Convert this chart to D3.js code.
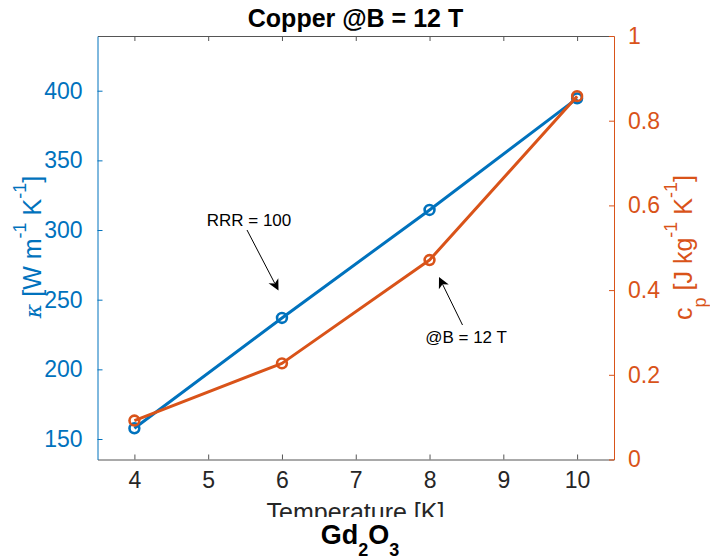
<!DOCTYPE html>
<html>
<head>
<meta charset="utf-8">
<script src="https://cdn.jsdelivr.net/npm/d3@7"></script>
<style>
  html, body { margin: 0; padding: 0; background: #fff; }
  svg text { font-family: "Liberation Sans", Arial, Helvetica, sans-serif; }
</style>
</head>
<body>
<svg id="chart" width="710" height="559"></svg>
<script>
// Copper at 12 T: thermal conductivity (left axis) and specific heat (right axis)
const temperature = [4, 6, 8, 10];
const kappa = [157.7, 236.9, 314.4, 394.5];      // W m^-1 K^-1, RRR = 100
const cp = [0.092, 0.227, 0.471, 0.858];         // J kg^-1 K^-1, @B = 12 T
const xTicks = [4, 5, 6, 7, 8, 9, 10];
const kappaTicks = [150, 200, 250, 300, 350, 400];
const cpTicks = [0, 0.2, 0.4, 0.6, 0.8, 1];

const BLUE = "#0072BD", ORANGE = "#D95319", INK = "#262626", FRAME = "#555";

const svg = d3.select("#chart");
const L = 97.5, R = 614, T = 36, B = 459.5;

const x = d3.scaleLinear().domain([3.5, 10.5]).range([L, R]);
const yL = d3.scaleLinear().domain([135.29, 439.26]).range([B, T]);
const yR = d3.scaleLinear().domain([0, 1]).range([B, T]);

const tickLen = 5;

// bottom axis (ticks point inward)
const axBottom = svg.append("g").attr("transform", `translate(0,${B})`)
  .call(d3.axisBottom(x).tickValues(xTicks).tickSizeInner(-tickLen).tickSizeOuter(0).tickPadding(17).tickFormat(d3.format("d")));
axBottom.select(".domain").attr("stroke", FRAME);
axBottom.selectAll(".tick line").attr("stroke", FRAME);
axBottom.selectAll(".tick text").attr("fill", INK).attr("font-size", 23).attr("dy", "0.5em");

// top frame with ticks
const axTop = svg.append("g").attr("transform", `translate(0,${T})`)
  .call(d3.axisTop(x).tickValues(xTicks).tickSizeInner(-tickLen).tickSizeOuter(0).tickFormat(""));
axTop.select(".domain").attr("stroke", FRAME);
axTop.selectAll(".tick line").attr("stroke", FRAME);

// left axis
const axLeft = svg.append("g").attr("transform", `translate(${L},0)`)
  .call(d3.axisLeft(yL).tickValues(kappaTicks).tickSizeInner(-tickLen).tickSizeOuter(0).tickPadding(15));
axLeft.select(".domain").attr("stroke", BLUE);
axLeft.selectAll(".tick line").attr("stroke", BLUE);
axLeft.selectAll(".tick text").attr("fill", BLUE).attr("font-size", 23);

// right axis
const axRight = svg.append("g").attr("transform", `translate(${R},0)`)
  .call(d3.axisRight(yR).tickValues(cpTicks).tickSizeInner(-tickLen).tickSizeOuter(0).tickPadding(14).tickFormat(d3.format("~g")));
axRight.select(".domain").attr("stroke", ORANGE);
axRight.selectAll(".tick line").attr("stroke", ORANGE);
axRight.selectAll(".tick text").attr("fill", ORANGE).attr("font-size", 23);

// series
function drawSeries(values, yScale, color) {
  const pts = temperature.map((t, i) => [x(t), yScale(values[i])]);
  svg.append("path").datum(pts)
    .attr("d", d3.line())
    .attr("fill", "none").attr("stroke", color).attr("stroke-width", 3)
    .attr("stroke-linejoin", "round");
  svg.append("g").selectAll("circle").data(pts).join("circle")
    .attr("cx", d => d[0]).attr("cy", d => d[1]).attr("r", 4.9)
    .attr("fill", "none").attr("stroke", color).attr("stroke-width", 2.6);
}
drawSeries(kappa, yL, BLUE);
drawSeries(cp, yR, ORANGE);

// annotation arrows
function arrow(x1, y1, x2, y2) {
  const dx = x2 - x1, dy = y2 - y1, len = Math.hypot(dx, dy);
  const ux = dx / len, uy = dy / len, px = -uy, py = ux;
  const hl = 11, hw = 5.5, notch = 3;
  const bx = x2 - ux * hl, by = y2 - uy * hl;
  svg.append("line").attr("x1", x1).attr("y1", y1)
    .attr("x2", x2 - ux * (hl - notch)).attr("y2", y2 - uy * (hl - notch))
    .attr("stroke", "#000").attr("stroke-width", 1);
  const head = [
    [x2, y2],
    [bx + px * hw, by + py * hw],
    [x2 - ux * (hl - notch), y2 - uy * (hl - notch)],
    [bx - px * hw, by - py * hw]
  ];
  svg.append("path").attr("d", "M" + head.map(p => p.join(",")).join("L") + "Z").attr("fill", "#000");
}
arrow(247, 230, 278.5, 290.5);
arrow(462.5, 325, 439, 277);

svg.append("text").attr("x", 249).attr("y", 226).attr("text-anchor", "middle")
  .attr("font-size", 17).attr("fill", "#000").text("RRR = 100");
svg.append("text").attr("x", 466).attr("y", 343).attr("text-anchor", "middle")
  .attr("font-size", 17).attr("fill", "#000").text("@B = 12 T");

// title
svg.append("text").attr("x", 355.5).attr("y", 27).attr("text-anchor", "middle")
  .attr("font-size", 25).attr("font-weight", "bold").attr("fill", "#000")
  .text("Copper @B = 12 T");

// x label, lower part hidden under the material caption
svg.append("defs").append("clipPath").attr("id", "xlabClip")
  .append("rect").attr("x", 0).attr("y", 0).attr("width", 710).attr("height", 517);
svg.append("text").attr("x", 355.5).attr("y", 521).attr("text-anchor", "middle")
  .attr("clip-path", "url(#xlabClip)")
  .attr("font-size", 25).attr("fill", INK).text("Temperature [K]");

// material caption Gd2O3
const cap = svg.append("text").attr("x", 360).attr("y", 544).attr("text-anchor", "middle")
  .attr("font-size", 27).attr("font-weight", "bold").attr("fill", "#000");
cap.append("tspan").text("Gd");
cap.append("tspan").attr("dy", 12).attr("font-size", 18).text("2");
cap.append("tspan").attr("dy", -12).text("O");
cap.append("tspan").attr("dy", 12).attr("font-size", 18).text("3");

// left y label: κ [W m^-1 K^-1]
const yl = svg.append("text").attr("transform", "translate(41,247) rotate(-90)")
  .attr("text-anchor", "middle").attr("font-size", 25).attr("fill", BLUE);
yl.append("tspan").attr("font-style", "italic").attr("font-family", "DejaVu Serif, serif").attr("font-size", 22).text("κ");
yl.append("tspan").text(" [W m");
yl.append("tspan").attr("dy", -15).attr("font-size", 18).text("-1");
yl.append("tspan").attr("dy", 15).text(" K");
yl.append("tspan").attr("dy", -15).attr("font-size", 18).text("-1");
yl.append("tspan").attr("dy", 15).text("]");

// right y label: c_p [J kg^-1 K^-1]
const yr = svg.append("text").attr("transform", "translate(692,247.5) rotate(-90)")
  .attr("text-anchor", "middle").attr("font-size", 25).attr("fill", ORANGE);
yr.append("tspan").text("c");
yr.append("tspan").attr("dy", 14).attr("font-size", 18).text("p");
yr.append("tspan").attr("dy", -14).text(" [J kg");
yr.append("tspan").attr("dy", -15).attr("font-size", 18).text("-1");
yr.append("tspan").attr("dy", 15).text(" K");
yr.append("tspan").attr("dy", -15).attr("font-size", 18).text("-1");
yr.append("tspan").attr("dy", 15).text("]");
</script>
</body>
</html>
